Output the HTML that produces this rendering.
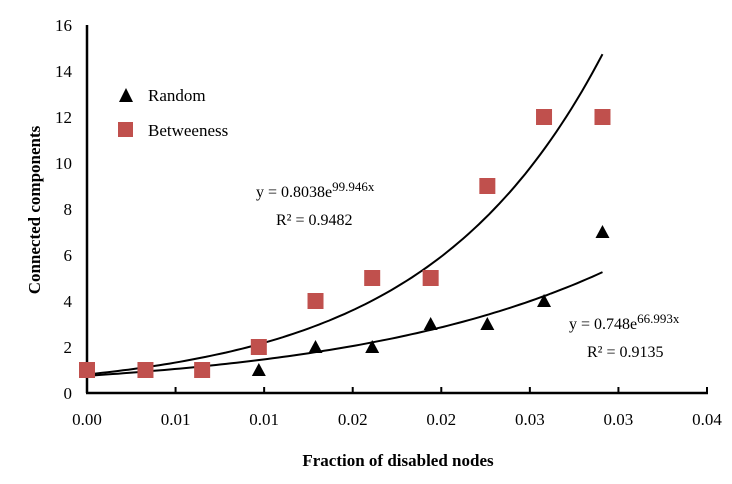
<!DOCTYPE html>
<html><head><meta charset="utf-8"><style>
body{margin:0;background:#fff}
svg{display:block;font-family:"Liberation Serif",serif}
</style></head><body>
<svg id="chart" width="732" height="484">
<g id="axes"></g><g id="curves"></g><g id="marks"></g>
<g>
<polygon points="119,102 126,88 133,102" fill="#000"/>
<text x="148" y="101" font-size="17">Random</text>
<rect x="118" y="122" width="15" height="15" fill="#c0504d"/>
<text x="148" y="136" font-size="17">Betweeness</text>
</g>
<text x="256" y="197" font-size="16">y = 0.8038e<tspan dy="-6" font-size="13">99.946x</tspan></text>
<text x="276" y="225" font-size="16">R² = 0.9482</text>
<text x="569" y="329" font-size="16">y = 0.748e<tspan dy="-6" font-size="13">66.993x</tspan></text>
<text x="587" y="357" font-size="16">R² = 0.9135</text>
<text transform="translate(40,210) rotate(-90)" text-anchor="middle" font-size="17" font-weight="bold">Connected components</text>
<text x="398" y="466" text-anchor="middle" font-size="17" font-weight="bold">Fraction of disabled nodes</text>
</svg>
<script>
const xValues=[0,0.0033,0.0065,0.0097,0.0129,0.0161,0.0194,0.0226,0.0258,0.0291];
const betweenessValues=[1,1,1,2,4,5,5,9,12,12];
const randomValues=[1,1,1,1,2,2,3,3,4,7];
const yTicks=[0,2,4,6,8,10,12,14,16];
const xTickLabels=["0.00","0.01","0.01","0.02","0.02","0.03","0.03","0.04"];
const xTickValues=[0,0.005,0.01,0.015,0.02,0.025,0.03,0.035];
const fits=[{a:0.8038,b:99.946,name:'betweeness-trendline'},{a:0.748,b:66.993,name:'random-trendline'}];
const NS='http://www.w3.org/2000/svg';
const X0=87,X1=707,Y0=393,Y1=25;
const sx=v=>X0+v/0.035*(X1-X0);
const sy=v=>Y0-v/16*(Y0-Y1);
function mk(tag,attrs,parent){const e=document.createElementNS(NS,tag);for(const k in attrs)e.setAttribute(k,attrs[k]);document.getElementById(parent).appendChild(e);return e;}
let e;
e=mk('line',{x1:X0,y1:Y1,x2:X0,y2:Y0,stroke:'#000','stroke-width':2.5},'axes');


e=mk('line',{x1:X0-1,y1:Y0,x2:X1+1,y2:Y0,stroke:'#000','stroke-width':2.5},'axes');


yTicks.forEach(t=>{
 e=mk('text',{x:72,y:sy(t)+6,'text-anchor':'end','font-size':17},'axes');e.textContent=t;
 
 
});
xTickValues.forEach((t,i)=>{
 e=mk('line',{x1:sx(t),y1:Y0,x2:sx(t),y2:Y0-6,stroke:'#000','stroke-width':2},'axes');
 
 
 e=mk('text',{x:sx(t),y:425,'text-anchor':'middle','font-size':17},'axes');e.textContent=xTickLabels[i];
 
 
});
fits.forEach(f=>{
 let d='';const xe=xValues[xValues.length-1];
 for(let i=0;i<=100;i++){const x=xe*i/100;d+=(i?'L':'M')+sx(x).toFixed(1)+','+sy(f.a*Math.exp(f.b*x)).toFixed(1);}
 e=mk('path',{d:d,fill:'none',stroke:'#000','stroke-width':2},'curves');
 
 
});
xValues.forEach((x,i)=>{
 const cx=sx(x),cy=sy(randomValues[i]);
 e=mk('polygon',{points:`${cx-7},${cy+6} ${cx},${cy-7} ${cx+7},${cy+6}`,fill:'#000'},'marks');
 
 
});
xValues.forEach((x,i)=>{
 const cx=sx(x),cy=sy(betweenessValues[i]);
 e=mk('rect',{x:cx-8,y:cy-8,width:16,height:16,fill:'#c0504d'},'marks');
 
 
});
</script>
</body></html>
